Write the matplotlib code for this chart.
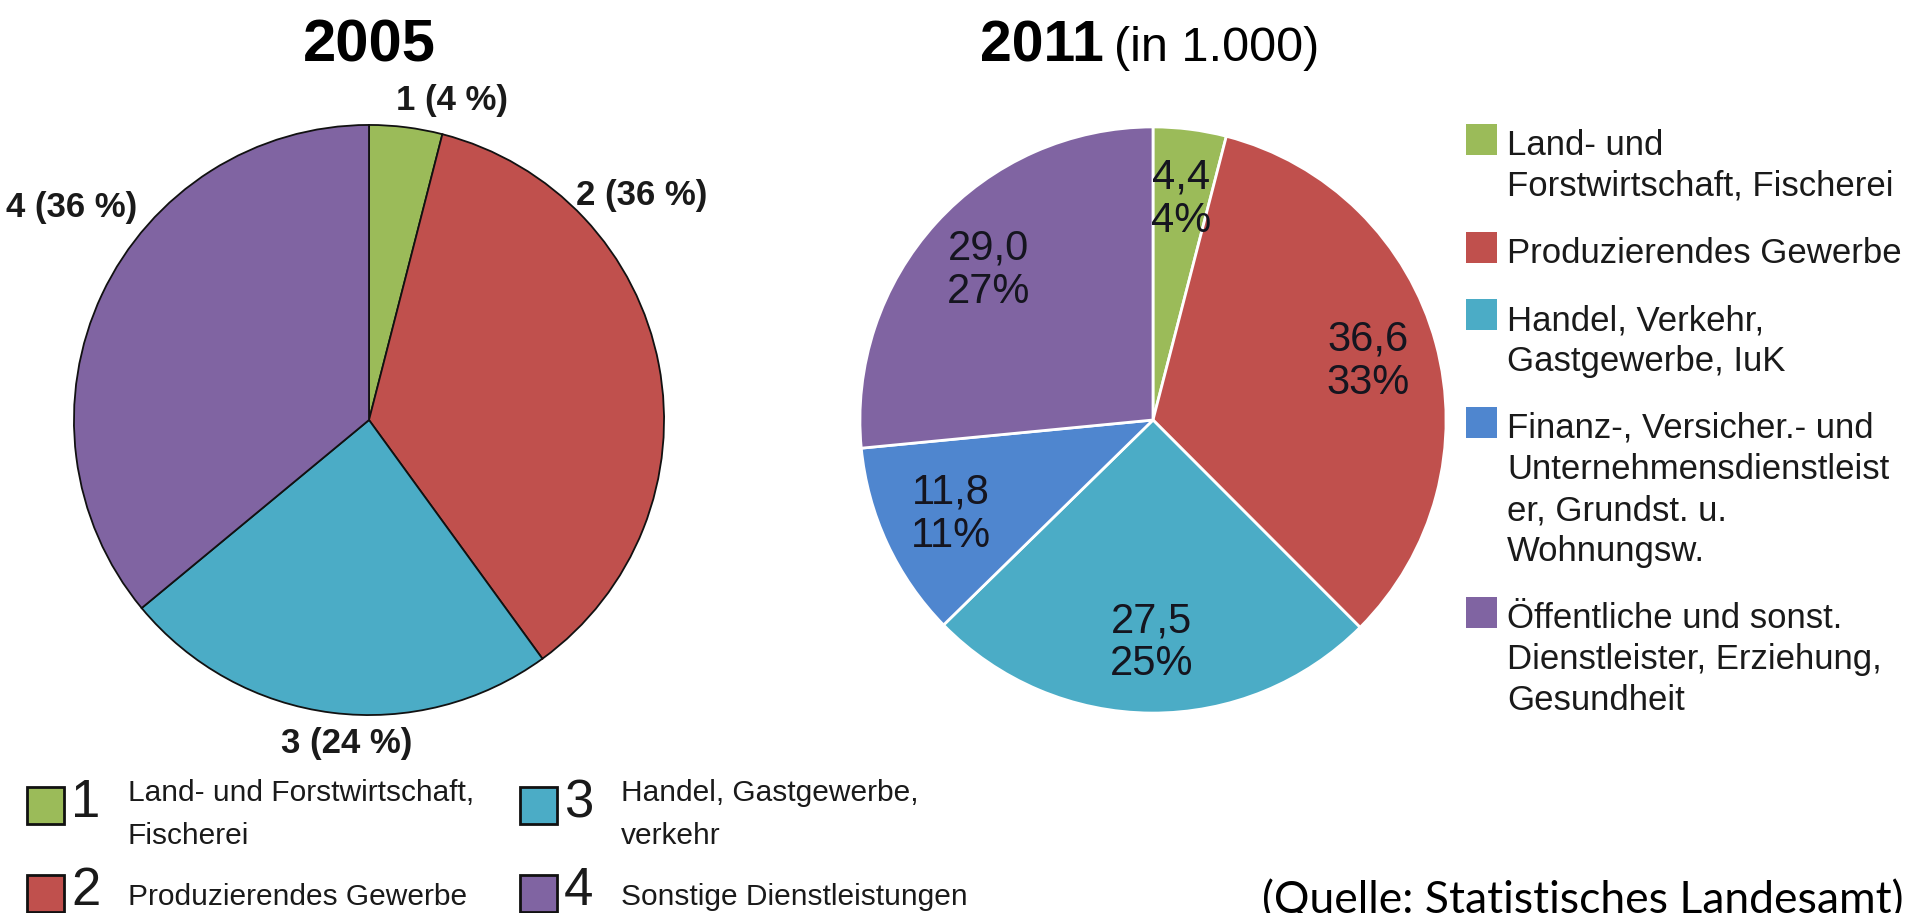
import matplotlib
matplotlib.use("Agg")
import matplotlib.pyplot as plt
from matplotlib.patches import Rectangle

W, H = 1909, 913

# 2005, Anteile in %
shares_2005 = [4, 36, 24, 36]
numbers_2005 = ["1", "2", "3", "4"]
legend_2005 = ["Land- und Forstwirtschaft,\nFischerei", "Produzierendes Gewerbe",
               "Handel, Gastgewerbe,\nverkehr", "Sonstige Dienstleistungen"]
colors_2005 = ["#9BBB59", "#C0504D", "#4BACC6", "#8064A2"]

# 2011, Erwerbstaetige in 1.000
values_2011 = [4.4, 36.6, 27.5, 11.8, 29.0]
legend_2011 = ["Land- und\nForstwirtschaft, Fischerei",
               "Produzierendes Gewerbe",
               "Handel, Verkehr,\nGastgewerbe, IuK",
               "Finanz-, Versicher.- und\nUnternehmensdienstleist\ner, Grundst. u.\nWohnungsw.",
               "Öffentliche und sonst.\nDienstleister, Erziehung,\nGesundheit"]
colors_2011 = ["#9BBB59", "#C0504D", "#4BACC6", "#4F86CF", "#8064A2"]

plt.rcParams['font.family'] = ['Liberation Sans', 'DejaVu Sans']
TXT = "#1a1a1a"


def fx(x):
    return x / W


def fy(y):
    return 1 - y / H


def pie_axes(cx, cy, r):
    return fig.add_axes([fx(cx - r), fy(cy + r), 2 * r / W, 2 * r / H])


fig = plt.figure(figsize=(W / 100, H / 100), dpi=100)
fig.patch.set_facecolor("white")

# ---- 2005 ----
ax1 = pie_axes(369, 420, 298)
ax1.pie(shares_2005, colors=colors_2005, startangle=90, counterclock=False,
        wedgeprops=dict(edgecolor="#111111", linewidth=1.3))
ax1.set_xlim(-1.01, 1.01)
ax1.set_ylim(-1.01, 1.01)

fig.text(fx(369), fy(61), "2005", fontsize=43, fontweight="bold",
         ha="center", va="baseline", color="black")

label_pos_2005 = [(452, 100), (642, 195), (347, 744), (72, 207)]
for n, s, (x, y) in zip(numbers_2005, shares_2005, label_pos_2005):
    fig.text(fx(x), fy(y), f"{n} ({s} %)", fontsize=25, fontweight="bold",
             ha="center", va="center", color=TXT)

# legend below the 2005 pie
leg_x = [27, 520]
leg_y = [787, 875]
for i, (n, lab, c) in enumerate(zip(numbers_2005, legend_2005, colors_2005)):
    col, row = i // 2, i % 2
    x0, y0 = leg_x[col], leg_y[row]
    fig.add_artist(Rectangle((fx(x0), fy(y0 + 37)), 37 / W, 37 / H,
                             transform=fig.transFigure, facecolor=c,
                             edgecolor="#111111", linewidth=2))
    fig.text(fx(x0 + 44), fy(y0 + 30), n, fontsize=38, ha="left",
             va="baseline", color=TXT)
    lines = lab.split("\n")
    if len(lines) == 1:
        fig.text(fx(x0 + 101), fy(y0 + 30), lab, fontsize=21.5, ha="left",
                 va="baseline", color=TXT)
    else:
        for k, line in enumerate(lines):
            fig.text(fx(x0 + 101), fy(y0 + 14 + 43 * k), line, fontsize=21.5,
                     ha="left", va="baseline", color=TXT)

# ---- 2011 ----
total_2011 = sum(values_2011)


def fmt_2011(pct):
    val = pct * total_2011 / 100
    return f"{val:.1f}".replace(".", ",") + f"\n{pct:.0f}%"


ax2 = pie_axes(1153, 420, 296)
wedges, _, autotexts = ax2.pie(values_2011, colors=colors_2011, startangle=90,
                               counterclock=False, autopct=fmt_2011,
                               pctdistance=0.76,
                               wedgeprops=dict(edgecolor="white", linewidth=2))
for t in autotexts:
    t.set_fontsize(30)
    t.set_color("#15151f")
    t.set_linespacing(1.1)
ax2.set_xlim(-1.01, 1.01)
ax2.set_ylim(-1.01, 1.01)

fig.text(fx(980), fy(61), "2011", fontsize=41, fontweight="bold",
         ha="left", va="baseline", color="black")
fig.text(fx(1114), fy(61), "(in 1.000)", fontsize=35, ha="left",
         va="baseline", color="black")

# legend right of the 2011 pie
y = 155
for lab, c in zip(legend_2011, colors_2011):
    fig.add_artist(Rectangle((fx(1466), fy(y)), 31 / W, 31 / H,
                             transform=fig.transFigure, facecolor=c,
                             edgecolor="none"))
    lines = lab.split("\n")
    for k, line in enumerate(lines):
        fig.text(fx(1507), fy(y + 41 * k), line, fontsize=25, ha="left",
                 va="baseline", color=TXT)
    y += 41 * len(lines) + 26

fig.text(fx(1262), fy(913), "(Quelle: Statistisches Landesamt)", fontsize=32,
         family=["Lato", "DejaVu Sans"], ha="left", va="baseline", color="black")

fig.savefig("out.png", dpi=100)
